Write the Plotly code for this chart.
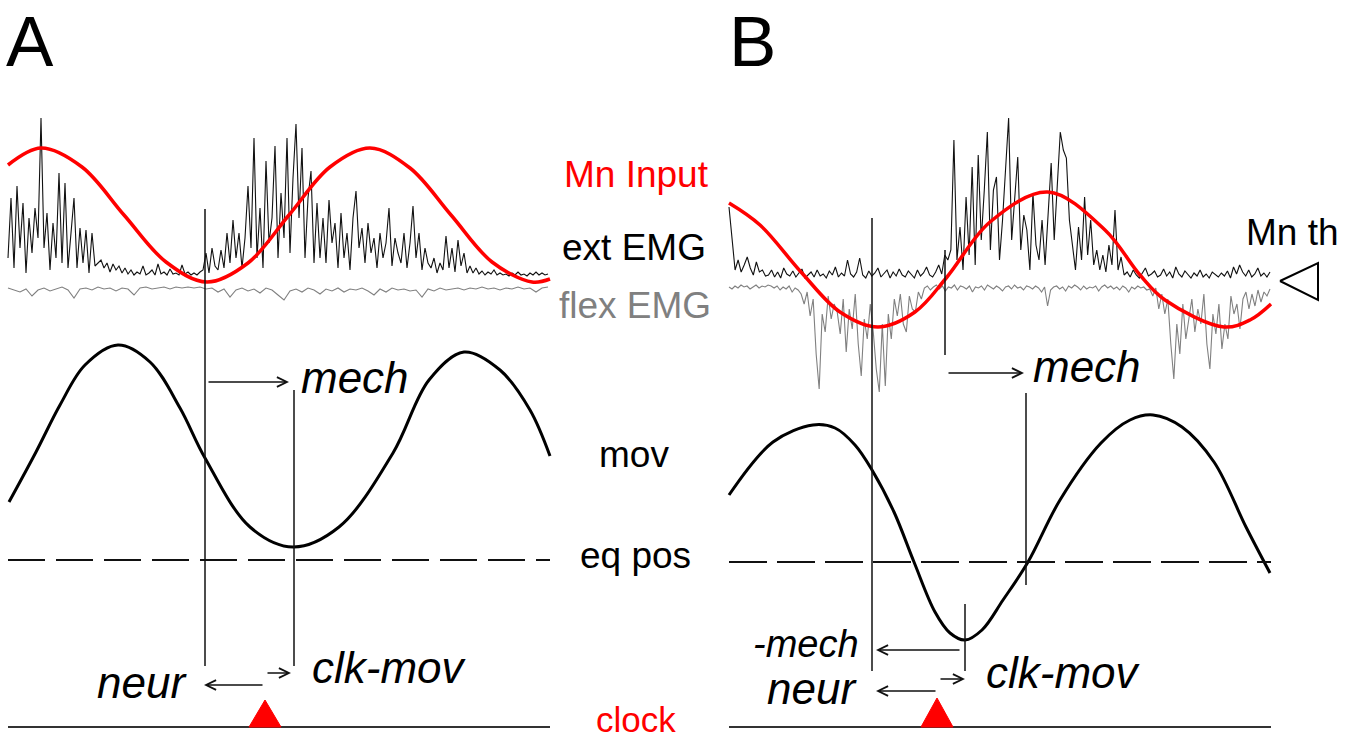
import numpy as np
import plotly.graph_objects as go

# ---------------- data ----------------
# Panel A: motoneuron input (red), key points (time, level)
mnA_t = [8, 41, 82, 124, 166, 207, 248, 289, 330, 370, 410, 451, 492, 532, 550]
mnA_v = [165, 148, 167, 215, 262, 282, 263, 215, 167, 148, 168, 215, 262, 282, 279]
# Panel A: movement
movA_t = [9, 36, 60, 85, 118, 150, 180, 205, 250, 293, 339, 393, 429, 464, 500, 530, 550]
movA_v = [502, 452, 405, 365, 345, 362, 408, 458, 527, 547, 527, 453, 380, 352, 370, 410, 456]
# Panel B: motoneuron input
mnB_t = [729, 760, 801, 840, 878, 915, 947, 990, 1048, 1105, 1140, 1165, 1224, 1250, 1271]
mnB_v = [203, 225, 272, 312, 327, 312, 277, 222, 192, 230, 275, 300, 327, 320, 304]
# Panel B: movement
movB_t = [729, 773, 813, 835, 855, 872, 894, 914, 935, 950, 965, 982, 1003, 1028, 1060,
          1101, 1130, 1153, 1182, 1214, 1246, 1270]
movB_v = [495, 442, 425, 428, 445, 470, 512, 562, 612, 633, 640, 630, 600, 562, 500,
          443, 420, 415, 427, 462, 527, 573]

# EMG envelopes (deflection from baseline)
extA = [20, 80, 10, 92, 30, 75, 5, 60, 25, 70, 40, 160, 30, 65, 8, 55, 20, 105, 15, 95, 10, 45, 80, 10, 50, 15, 48, 5, 45, 12, 15,
        18, 10, 15, 6, 14, 8, 12, 5, 10, 4,
        8, 3, 6, 4, 12, 3, 5, 8, 3, 14, 4, 6, 3, 9, 4, 5, 3, 13, 4, 6, 3, 5, 3, 6,
        8, 25, 5, 30, 12, 8, 28, 10, 45, 15,
        58, 20, 45, 10, 40, 92, 30, 140, 20, 70, 10, 117, 35, 60, 132, 20, 85, 40, 140, 25, 100, 154, 60, 130, 20, 80, 107, 15, 75, 20, 60,
        15, 78, 35, 55, 10, 65, 20, 45, 8, 60, 87, 30, 50, 15, 55, 25, 40, 10, 45, 20, 35, 70, 12, 40, 25, 15, 45, 10, 35, 72, 20, 45, 8, 30, 15,
        10, 20, 5, 15, 8, 42, 10, 30, 6, 38, 12, 25, 5, 12,
        5, 10, 4, 7, 3, 6, 4, 8, 3, 5, 3, 4, 2, 5, 3, 6, 3, 4, 2, 5, 3, 6, 3, 5, 3, 4]
flexA = [2, 4, 6, 3, 10, 4, 2, 5, 3, 1, 4, 12, 3, 2, 4, 1, 3, 2, 5, 2, 3, 9, 2, 1, 3, 2, 1, 3, 1, 2, 1, 2, 1,
         3, 2, 6, 3, 11, 4, 2, 5, 3, 7, 2, 4, 9, 14, 5, 3, 6, 2, 4, 8, 3, 5, 2, 6, 3, 4, 2, 5, 9, 3, 6, 2, 4,
         3, 5, 4, 11, 3, 5, 2, 4, 3, 2, 4, 2, 3, 1, 3, 2, 4, 2, 3, 1, 3, 2, 6, 2, 1]
extB = [73, 40, 10, 20, 8, 15, 23, 12, 5, 18, 8, 10, 4,
        5, 10, 3, 8, 2, 12, 6, 4, 9, 3, 7, 11, 2, 5, 8, 3, 10, 4, 6, 2, 9, 5, 13, 3, 7, 4, 20, 6, 3, 8, 22, 5,
        2, 9, 4, 7, 12, 3, 6, 10, 2, 8, 4, 11, 5, 3, 9, 6, 2, 10, 4, 7, 13, 5, 3, 8, 15, 6,
        25, 20,
        30, 140, 20, 53, 10, 83, 25, 113, 15, 125, 40, 90, 148, 30, 90, 103, 20, 60, 110, 162, 40, 80, 123, 30,
        65, 50, 10, 87, 35, 20, 60, 15, 70, 117, 40, 100, 148, 130, 122, 60, 37, 10, 53, 20, 83, 25, 60, 15,
        30, 10, 25, 8, 35, 15, 70, 10, 23, 5,
        8, 3, 10, 5, 2, 7, 12, 4, 6, 9, 3, 5, 11, 4, 8, 2, 13, 6, 3, 9, 5, 2, 7, 4, 10, 3, 6, 2, 8, 5, 3, 7,
        4, 9, 2, 13, 6, 15, 8, 4, 10, 3, 6, 12, 4, 7, 3, 8]
flexB = [3, 5, 2, 4, 1, 3, 2, 5, 3, 1, 4, 2, 3, 1, 2, 4, 2, 6, 3, 5, 2, 8, 4, 6,
         10, 20, 8, 32, 15, 70, 105, 30, 48, 12, 35, 20, 28, 50, 15, 68, 25, 45, 10, 60, 92, 35, 55, 20, 48,
         85, 108, 40, 102, 30, 55, 15, 32, 10, 40, 48, 12, 25, 28, 8, 15,
         4, 2, 6, 3, 1, 5, 2, 7, 3, 4, 1, 6, 2, 3, 5, 2, 8, 3, 4, 2, 6, 1, 3, 5, 2, 4, 7, 3, 2, 5, 1, 4, 3,
         6, 2, 3, 5, 2, 4, 8, 3, 22, 6, 3, 2, 5, 3, 7, 2, 4, 1, 3, 6, 2, 5, 3, 4, 2, 7, 3, 1, 4, 2, 5, 3, 6,
         2, 4, 8, 3, 5, 2, 4, 3, 6,
         5, 12, 4, 25, 10, 30, 15, 60, 95, 40, 70, 20, 55, 35, 15, 48, 25, 40, 10, 60, 85, 30, 50, 20, 65,
         40, 55, 12, 30, 20, 45, 15, 8, 25, 10, 22, 6, 18, 8, 12, 5]

# ---------------- layout constants ----------------
W, H = 1354, 740
RED = "#ff0000"
GRAY = "#808080"
FONT = "Liberation Sans, Arial, sans-serif"

fig = go.Figure()


def line(x, y, color="black", width=1.5, dash=None, shape="linear"):
    fig.add_trace(go.Scatter(x=list(x), y=list(y), mode="lines", hoverinfo="skip",
                             line=dict(color=color, width=width, dash=dash, shape=shape)))


def emg(vals, x0, x1, base, sign, color):
    t = np.linspace(x0, x1, len(vals))
    line(t, base - sign * np.array(vals, dtype=float), color=color, width=1.1)


# EMG traces
emg(flexA, 8, 548, 286, -1, GRAY)
emg(extA, 8, 548, 278, 1, "#111111")
emg(flexB, 729, 1270, 284, -1, GRAY)
emg(extB, 729, 1270, 280, 1, "#111111")

# Mn input (red)
line(mnA_t, mnA_v, color=RED, width=3.5, shape="spline")
line(mnB_t, mnB_v, color=RED, width=3.5, shape="spline")

# movement
line(movA_t, movA_v, color="black", width=3, shape="spline")
line(movB_t, movB_v, color="black", width=3, shape="spline")

# equilibrium position (dashed)
line([8, 550], [560, 560], color="#111111", width=2, dash="37px,11px")
line([729, 1271], [562, 562], color="#111111", width=2, dash="38px,10px")

# clock baselines
line([8, 550], [727, 727], color="#333333", width=2)
line([729, 1271], [727, 727], color="#333333", width=2)

# clock markers (red filled triangles)
fig.add_trace(go.Scatter(x=[249, 265, 281, 249], y=[727, 700, 727, 727], mode="lines",
                         fill="toself", fillcolor=RED, line=dict(color=RED, width=1), hoverinfo="skip"))
fig.add_trace(go.Scatter(x=[921, 937, 953, 921], y=[727, 698, 727, 727], mode="lines",
                         fill="toself", fillcolor=RED, line=dict(color=RED, width=1), hoverinfo="skip"))
# Mn threshold open triangle
line([1280, 1318, 1318, 1280], [281, 263, 300, 281], color="black", width=2)

# vertical markers
vlines = [(205, 209, 666), (294, 390, 666), (872, 218, 671), (945, 250, 355),
          (1026, 393, 585), (965, 604, 671)]
for xv, y0, y1 in vlines:
    line([xv, xv], [y0, y1], color="#111111", width=1.5)

# arrows
arrows = [((207, 382), (289, 382)), ((264, 685), (204, 685)), ((266, 673), (291, 673)),
          ((947, 373), (1024, 373)), ((961, 650), (876, 650)), ((937, 691), (876, 691)),
          ((939, 679), (965, 679))]
for (tx, ty), (hx, hy) in arrows:
    fig.add_annotation(x=hx, y=hy, ax=tx, ay=ty, xref="x", yref="y", axref="x", ayref="y",
                       text="", showarrow=True, arrowhead=5, arrowsize=1.3, arrowwidth=1.5,
                       arrowcolor="#111111", standoff=0, startstandoff=0)


def label(text, x, baseline, size, color="black", anchor="center", italic=False):
    if italic:
        text = "<i>" + text + "</i>"
    fig.add_annotation(x=x, y=baseline - 0.35 * size, xref="x", yref="y", text=text,
                       showarrow=False, xanchor=anchor, yanchor="middle",
                       font=dict(family=FONT, size=size, color=color), borderpad=0)


label("A", 5, 66, 71, anchor="left")
label("B", 728, 66, 71, anchor="left")

label("Mn Input", 636, 187, 37, color=RED)
label("ext EMG", 634, 260, 37)
label("flex EMG", 635, 318, 37, color=GRAY)
label("mov", 634, 467, 37)
label("eq pos", 635, 568, 37)
label("clock", 636, 732, 35, color=RED)
label("Mn th", 1292, 245, 37)

label("mech", 300, 393, 44, anchor="left", italic=True)
label("neur", 96, 698, 44, anchor="left", italic=True)
label("clk-mov", 311, 683, 44, anchor="left", italic=True)
label("mech", 1032, 382, 44, anchor="left", italic=True)
label("-mech", 752, 657, 38, anchor="left", italic=True)
label("neur", 766, 704, 44, anchor="left", italic=True)
label("clk-mov", 985, 688, 44, anchor="left", italic=True)

fig.update_layout(
    width=W, height=H, margin=dict(l=0, r=0, t=0, b=0),
    paper_bgcolor="white", plot_bgcolor="white", showlegend=False,
    xaxis=dict(range=[0, W], visible=False, fixedrange=True),
    yaxis=dict(range=[H, 0], visible=False, fixedrange=True),
)
fig.write_html("out.html", config={"displayModeBar": False})
